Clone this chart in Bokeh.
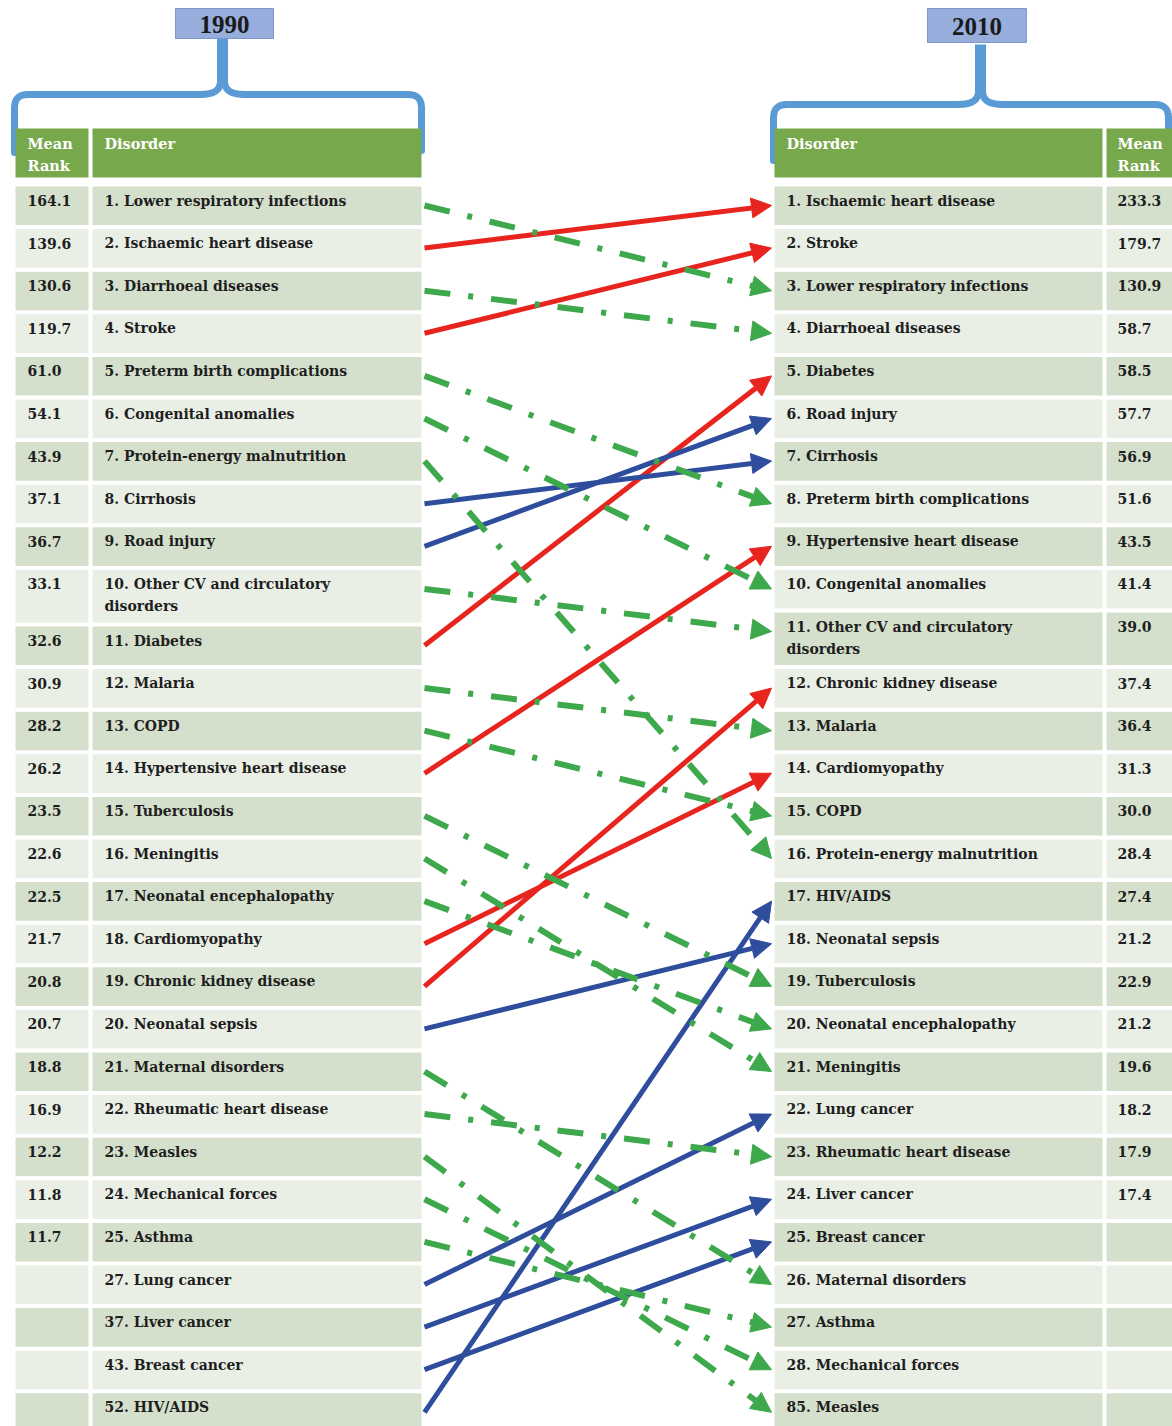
from bokeh.plotting import figure
from bokeh.models import Range1d, Arrow, NormalHead, ColumnDataSource
from bokeh.embed import file_html
from bokeh.resources import INLINE
from bokeh.core.properties import value

# ---------------- data ----------------
years = ["1990", "2010"]
header_rank = "Mean\nRank"
header_disorder = "Disorder"

rank_1990 = [164.1, 139.6, 130.6, 119.7, 61.0, 54.1, 43.9, 37.1, 36.7, 33.1,
             32.6, 30.9, 28.2, 26.2, 23.5, 22.6, 22.5, 21.7, 20.8, 20.7,
             18.8, 16.9, 12.2, 11.8, 11.7, None, None, None, None]
disorder_1990 = ["1. Lower respiratory infections", "2. Ischaemic heart disease",
                 "3. Diarrhoeal diseases", "4. Stroke", "5. Preterm birth complications",
                 "6. Congenital anomalies", "7. Protein-energy malnutrition",
                 "8. Cirrhosis", "9. Road injury",
                 "10. Other CV and circulatory\ndisorders", "11. Diabetes",
                 "12. Malaria", "13. COPD", "14. Hypertensive heart disease",
                 "15. Tuberculosis", "16. Meningitis", "17. Neonatal encephalopathy",
                 "18. Cardiomyopathy", "19. Chronic kidney disease",
                 "20. Neonatal sepsis", "21. Maternal disorders",
                 "22. Rheumatic heart disease", "23. Measles",
                 "24. Mechanical forces", "25. Asthma", "27. Lung cancer",
                 "37. Liver cancer", "43. Breast cancer", "52. HIV/AIDS"]

disorder_2010 = ["1. Ischaemic heart disease", "2. Stroke",
                 "3. Lower respiratory infections", "4. Diarrhoeal diseases",
                 "5. Diabetes", "6. Road injury", "7. Cirrhosis",
                 "8. Preterm birth complications", "9. Hypertensive heart disease",
                 "10. Congenital anomalies",
                 "11. Other CV and circulatory\ndisorders",
                 "12. Chronic kidney disease", "13. Malaria", "14. Cardiomyopathy",
                 "15. COPD", "16. Protein-energy malnutrition", "17. HIV/AIDS",
                 "18. Neonatal sepsis", "19. Tuberculosis",
                 "20. Neonatal encephalopathy", "21. Meningitis", "22. Lung cancer",
                 "23. Rheumatic heart disease", "24. Liver cancer",
                 "25. Breast cancer", "26. Maternal disorders", "27.  Asthma",
                 "28. Mechanical forces", "85. Measles"]
rank_2010 = [233.3, 179.7, 130.9, 58.7, 58.5, 57.7, 56.9, 51.6, 43.5, 41.4,
             39.0, 37.4, 36.4, 31.3, 30.0, 28.4, 27.4, 21.2, 22.9, 21.2,
             19.6, 18.2, 17.9, 17.4, None, None, None, None, None]

# row (1-based) in the 2010 list reached by each 1990 row
moves_to = [3, 1, 4, 2, 8, 10, 16, 7, 6, 11, 5, 13, 15, 9, 19, 21, 20, 14, 12, 18,
            26, 23, 29, 28, 27, 22, 24, 25, 17]
move_kind = ["down", "red", "down", "red", "down", "down", "down", "blue", "blue",
             "down", "red", "down", "down", "red", "down", "down", "down", "red",
             "red", "blue", "down", "down", "down", "down", "down", "blue", "blue",
             "blue", "blue"]

# ---------------- style / layout ----------------
FONT = value("DejaVu Serif")
HEADER_GREEN = "#78A84C"
ROW_DARK = "#D5E0CC"
ROW_LIGHT = "#EAEFE6"
BRACE = "#5B9BD5"
BOX_FILL = "#97ADDC"
BOX_LINE = "#7F97CF"
TEXT = "#1E1E1E"
KIND_STYLE = {
    "red": dict(color="#E8241E", dash="solid", width=5),
    "blue": dict(color="#2E4D9C", dash="solid", width=5),
    "down": dict(color="#3EA84C", dash="26 18 5 18", width=6),
}

TOP0, PITCH, GAP, EXTRA = 186.0, 42.6, 4.0, 14.0
HEAD_TOP, HEAD_BOT = 128.0, 177.0
L_RANK = (15, 88)
L_DIS = (92, 421)
R_DIS = (774, 1102)
R_RANK = (1106, 1172)
ARROW_X0, ARROW_X1 = 424, 771

p = figure(width=1172, height=1426, x_range=Range1d(0, 1172), y_range=Range1d(1426, 0),
           x_axis_type=None, y_axis_type=None, output_backend="svg",
           toolbar_location=None, min_border=0, outline_line_color=None,
           background_fill_color="white")
p.xgrid.visible = False
p.ygrid.visible = False


def layout(names):
    tops, hs = [], []
    y = TOP0
    for nm in names:
        h = PITCH + EXTRA * nm.count("\n")
        tops.append(y)
        hs.append(h)
        y += h
    return tops, hs


def draw_table(names, ranks, dis_col, rank_col):
    tops, hs = layout(names)
    fills = [ROW_DARK if i % 2 == 0 else ROW_LIGHT for i in range(len(names))]
    bottoms = [t + h - GAP for t, h in zip(tops, hs)]
    for col in (dis_col, rank_col):
        p.quad(left=col[0], right=col[1], top=tops, bottom=bottoms,
               fill_color=fills, line_color=None)
        p.quad(left=col[0], right=col[1], top=HEAD_TOP, bottom=HEAD_BOT,
               fill_color=HEADER_GREEN, line_color=None)
    rx = rank_col[0] + 12 if rank_col[0] < 100 else rank_col[0] + 11
    tx, ty, tt = [], [], []
    for t, nm in zip(tops, names):
        for j, line in enumerate(nm.split("\n")):
            tx.append(dis_col[0] + 12)
            ty.append(t + 14 + 22 * j)
            tt.append(line)
    for t, r in zip(tops, ranks):
        if r is not None:
            tx.append(rx)
            ty.append(t + 14)
            tt.append(f"{r:.1f}")
    p.text(x=tx, y=ty, text=tt, text_font=FONT, text_font_style="bold",
           text_font_size="14px", text_baseline="middle", text_color=TEXT)
    # headers
    hx, hy, ht = [], [], []
    for j, line in enumerate(header_rank.split("\n")):
        hx.append(rx)
        hy.append(HEAD_TOP + 15 + 22 * j)
        ht.append(line)
    hx.append(dis_col[0] + 12)
    hy.append(HEAD_TOP + 15)
    ht.append(header_disorder)
    p.text(x=hx, y=hy, text=ht, text_font=FONT, text_font_style="bold",
           text_font_size="14.5px", text_baseline="middle", text_color="white")
    return tops


def draw_brace(xl, xm, xr, ybar, ystem, ybot_l, ybot_r, box, label):
    w = 7
    r = 14
    kw = dict(line_color=BRACE, line_width=w, line_cap="round")
    p.line([xl, xl], [ybot_l, ybar + r], **kw)
    p.bezier(x0=xl, y0=ybar + r, x1=xl + r, y1=ybar, cx0=xl, cy0=ybar + 4,
             cx1=xl + 4, cy1=ybar, **kw)
    p.line([xl + r, xm - 22], [ybar, ybar], **kw)
    p.bezier(x0=xm - 22, y0=ybar, x1=xm - 2, y1=ybar - 12, cx0=xm - 8, cy0=ybar,
             cx1=xm - 3, cy1=ybar - 4, **kw)
    p.bezier(x0=xm + 22, y0=ybar, x1=xm + 2, y1=ybar - 12, cx0=xm + 8, cy0=ybar,
             cx1=xm + 3, cy1=ybar - 4, **kw)
    p.line([xm + 22, xr - r], [ybar, ybar], **kw)
    p.bezier(x0=xr - r, y0=ybar, x1=xr, y1=ybar + r, cx0=xr - 4, cy0=ybar,
             cx1=xr, cy1=ybar + 4, **kw)
    p.line([xr, xr], [ybar + r, ybot_r], **kw)
    p.line([xm, xm], [ystem, ybar - 10], line_color=BRACE, line_width=11)
    p.quad(left=box[0], right=box[1], top=box[2], bottom=box[3],
           fill_color=BOX_FILL, line_color=BOX_LINE, line_width=1)
    p.text(x=[(box[0] + box[1]) / 2], y=[(box[2] + box[3]) / 2 + 1], text=[label],
           text_font=value("Liberation Serif"), text_font_style="bold",
           text_font_size="25px", text_align="center", text_baseline="middle",
           text_color="#1A1A1A")


draw_brace(14, 222, 421, 94, 38, 152, 150, (175, 273, 8, 38), years[0])
draw_brace(773, 980, 1168, 104, 44, 160, 136, (927, 1026, 8, 42), years[1])

tops_l = draw_table(disorder_1990, rank_1990, L_DIS, L_RANK)
tops_r = draw_table(disorder_2010, rank_2010, R_DIS, R_RANK)

# ---------------- arrows ----------------
for kind, st in KIND_STYLE.items():
    idx = [i for i, k in enumerate(move_kind) if k == kind]
    src = ColumnDataSource(dict(
        x0=[ARROW_X0] * len(idx),
        y0=[tops_l[i] + 19 for i in idx],
        x1=[ARROW_X1] * len(idx),
        y1=[tops_r[moves_to[i] - 1] + 19 for i in idx],
    ))
    head = NormalHead(size=20, fill_color=st["color"], line_color=st["color"],
                      line_width=1)
    p.add_layout(Arrow(end=head, x_start="x0", y_start="y0", x_end="x1", y_end="y1",
                       source=src, line_color=st["color"], line_width=st["width"],
                       line_dash=st["dash"]))

open("out.html", "w").write(file_html(p, INLINE))
